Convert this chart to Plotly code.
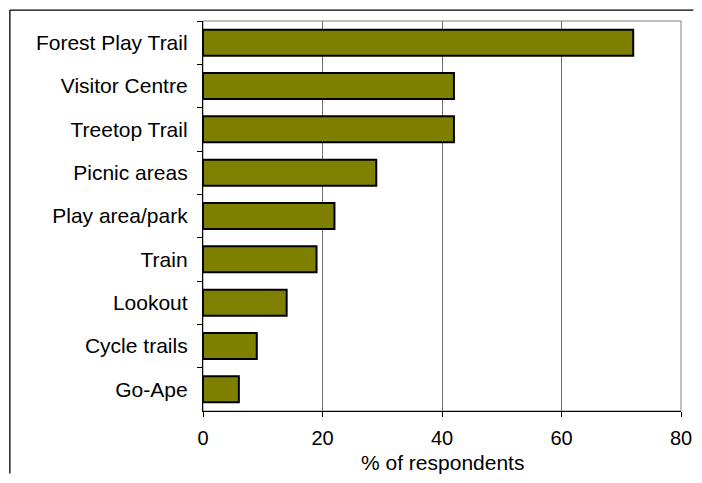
import plotly.graph_objects as go

# Attractions visited (% of respondents)
attractions = [
    "Forest Play Trail",
    "Visitor Centre",
    "Treetop Trail",
    "Picnic areas",
    "Play area/park",
    "Train",
    "Lookout",
    "Cycle trails",
    "Go-Ape",
]
pct_respondents = [72, 42, 42, 29, 22, 19, 14, 9, 6]
x_ticks = [0, 20, 40, 60, 80]

FONT = "Liberation Sans, Arial, sans-serif"
OLIVE = "#808000"

fig = go.Figure()

fig.add_trace(go.Bar(
    x=pct_respondents,
    y=attractions,
    orientation="h",
    marker=dict(color=OLIVE, line=dict(color="black", width=2)),
    width=0.6,
))

# Plot area frame (grey top/right edges)
fig.add_shape(
    type="rect", xref="paper", yref="paper",
    x0=0, y0=0, x1=1, y1=1,
    line=dict(color="#808080", width=1),
    layer="below",
)
# Outer chart border: only its top and left edges are in view
fig.add_shape(
    type="line", xref="paper", yref="paper",
    x0=-0.404, y0=1.028, x1=1.026, y1=1.028,
    line=dict(color="black", width=1.3),
)
fig.add_shape(
    type="line", xref="paper", yref="paper",
    x0=-0.404, y0=-0.16, x1=-0.404, y1=1.028,
    line=dict(color="black", width=1.3),
)

# x axis title as an annotation so it can sit lower than the margin allows
fig.add_annotation(
    text="% of respondents",
    xref="paper", yref="paper",
    x=0.5, y=-0.133,
    xanchor="center", yanchor="middle",
    showarrow=False,
    font=dict(size=21),
)

# page body has an 8px margin on every side, keep the figure inside the window
fig.update_layout(
    width=686,
    height=467,
    margin=dict(l=195, r=13, t=13, b=64),
    paper_bgcolor="white",
    plot_bgcolor="white",
    font=dict(family=FONT, size=21, color="black"),
    showlegend=False,
    xaxis=dict(
        range=[0, 80],
        tickvals=x_ticks,
        ticks="outside",
        ticklen=5,
        tickcolor="black",
        showline=True,
        linecolor="black",
        linewidth=1.3,
        showgrid=True,
        gridcolor="#707070",
        gridwidth=1,
        zeroline=False,
        automargin=False,
        ticklabelstandoff=4,
        tickfont=dict(size=20),
    ),
    yaxis=dict(
        categoryorder="array",
        categoryarray=attractions,
        autorange="reversed",
        ticks="outside",
        tickson="boundaries",
        ticklen=5,
        tickcolor="black",
        showline=True,
        linecolor="black",
        linewidth=1.3,
        showgrid=False,
        automargin=False,
        ticklabelstandoff=10,
        tickfont=dict(size=21),
    ),
)

fig.write_html("out.html")
